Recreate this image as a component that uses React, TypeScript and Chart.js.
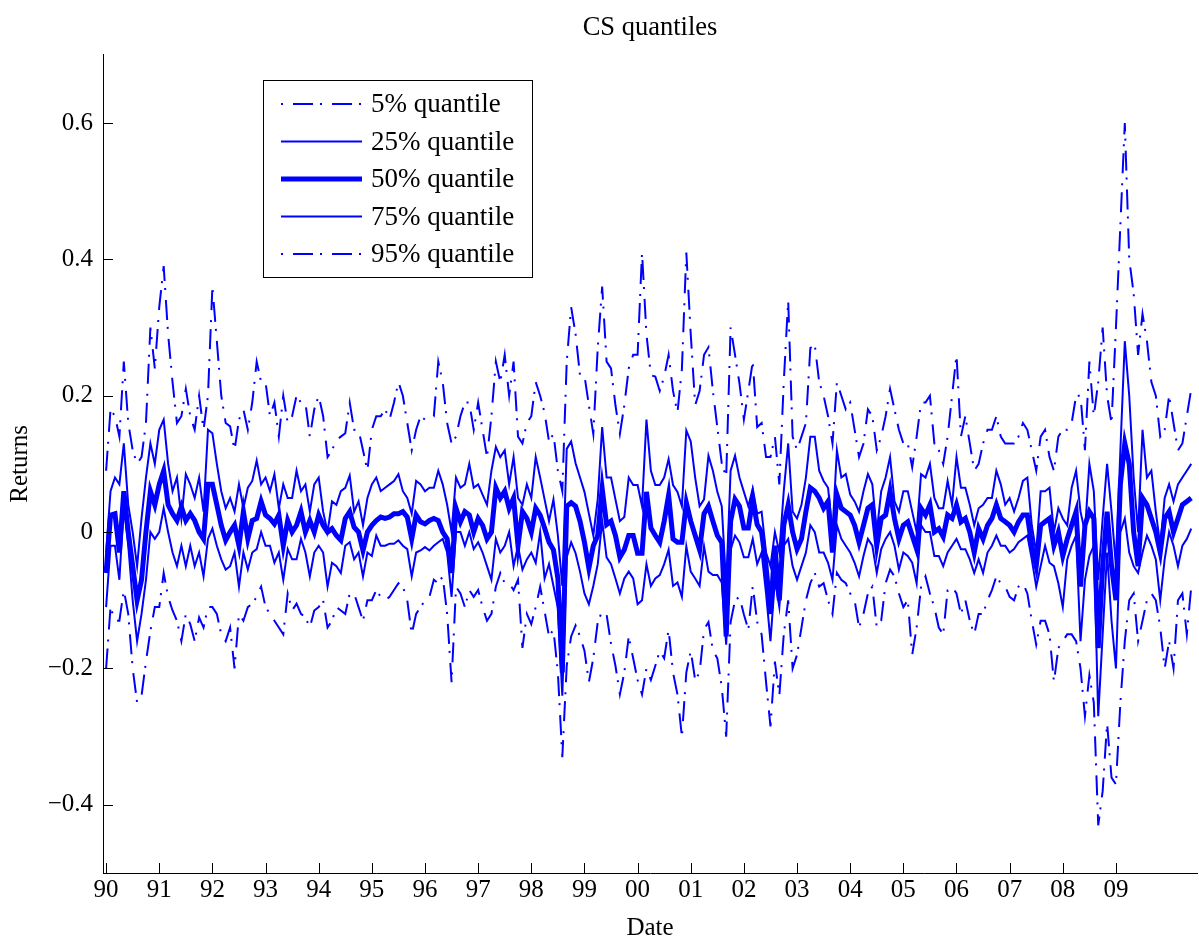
import React, { useEffect, useRef } from "react";
import { Chart, registerables } from "chart.js";

Chart.register(...registerables);

// Month index 0 = Jan 1990
const q95 = [
  0.09, 0.18, 0.17, 0.14, 0.25, 0.16, 0.12, 0.10, 0.11, 0.16, 0.30, 0.24, 0.33, 0.39, 0.29, 0.22, 0.16, 0.17, 0.21, 0.17, 0.15, 0.20, 0.15, 0.20,
  0.36, 0.28, 0.20, 0.16, 0.155, 0.12, 0.165, 0.18, 0.15, 0.19, 0.25, 0.22, 0.22, 0.17, 0.19, 0.14, 0.20, 0.16, 0.17, 0.20, 0.19, 0.19, 0.14, 0.18, 0.20,
  0.17, 0.11, 0.12, 0.135, 0.14, 0.145, 0.19, 0.15, 0.15, 0.12, 0.09, 0.15, 0.17, 0.17, 0.18, 0.165, 0.19, 0.22, 0.20, 0.16, 0.12, 0.15, 0.17, 0.165, 0.17,
  0.17, 0.25, 0.22, 0.16, 0.13, 0.14, 0.17, 0.19, 0.19, 0.15, 0.19, 0.15, 0.11, 0.17, 0.25, 0.22, 0.26, 0.20, 0.25, 0.14, 0.13, 0.16, 0.17, 0.22, 0.20,
  0.175, 0.133, 0.144, 0.09, 0.06, 0.25, 0.33, 0.29, 0.23, 0.23, 0.186, 0.144, 0.27, 0.36, 0.25, 0.24, 0.186, 0.144, 0.186, 0.24, 0.26, 0.26, 0.41, 0.29, 0.23,
  0.228, 0.207, 0.228, 0.26, 0.207, 0.175, 0.239, 0.41, 0.29, 0.186, 0.207, 0.26, 0.271, 0.207, 0.154, 0.101, 0.08, 0.30, 0.26, 0.218, 0.165, 0.207, 0.25, 0.154,
  0.16, 0.11, 0.11, 0.14, 0.07, 0.22, 0.34, 0.14, 0.12, 0.14, 0.16, 0.27, 0.275, 0.22, 0.20, 0.17, 0.13, 0.22, 0.20, 0.18, 0.19, 0.15, 0.11, 0.13, 0.18,
  0.17, 0.12, 0.14, 0.17, 0.21, 0.18, 0.15, 0.13, 0.13, 0.095, 0.14, 0.19, 0.19, 0.20, 0.13, 0.12, 0.10, 0.14, 0.20, 0.26, 0.14, 0.17, 0.13, 0.09, 0.10,
  0.13, 0.15, 0.15, 0.17, 0.14, 0.13, 0.13, 0.13, 0.14, 0.16, 0.15, 0.12, 0.09, 0.14, 0.15, 0.11, 0.09, 0.14, 0.15, 0.15, 0.16, 0.20,
  0.20, 0.12, 0.25, 0.17, 0.22, 0.30, 0.20, 0.16, 0.30, 0.45, 0.60, 0.40, 0.35, 0.26, 0.32, 0.28, 0.22, 0.20, 0.14, 0.15, 0.20, 0.16, 0.12, 0.13, 0.17, 0.21,
];

const q75 = [
  -0.03, 0.06, 0.08, 0.07, 0.13, 0.04, 0.0, -0.05, 0.02, 0.08, 0.13, 0.10, 0.15, 0.165, 0.10, 0.06, 0.08, 0.02, 0.085, 0.07, 0.05, 0.08, 0.03, 0.15,
  0.145, 0.10, 0.06, 0.035, 0.05, 0.03, 0.07, 0.035, 0.065, 0.075, 0.105, 0.07, 0.08, 0.06, 0.085, 0.035, 0.07, 0.05, 0.05, 0.09, 0.06, 0.07, 0.03, 0.07, 0.08,
  0.03, 0.0, 0.045, 0.04, 0.06, 0.065, 0.083, 0.03, 0.045, 0.01, 0.05, 0.07, 0.08, 0.06, 0.065, 0.07, 0.075, 0.085, 0.06, 0.05, 0.027, 0.075, 0.07, 0.06, 0.065,
  0.065, 0.09, 0.07, 0.04, 0.0, 0.08, 0.065, 0.07, 0.10, 0.065, 0.07, 0.055, 0.04, 0.09, 0.125, 0.11, 0.12, 0.07, 0.11, 0.05, 0.04, 0.07, 0.05, 0.11, 0.08,
  0.048, 0.016, 0.048, -0.005, -0.079, 0.122, 0.133, 0.101, 0.08, 0.059, 0.027, -0.005, 0.048, 0.154, 0.08, 0.08, 0.048, 0.016, 0.022, 0.08, 0.069, 0.069, 0.038, 0.165, 0.09,
  0.069, 0.069, 0.08, 0.107, 0.069, 0.059, 0.038, 0.149, 0.133, 0.08, 0.038, 0.048, 0.112, 0.09, 0.059, 0.038, -0.079, 0.09, 0.112, 0.08, 0.059, 0.038, 0.064, 0.027,
  0.03, -0.03, -0.05, 0.0, -0.03, 0.06, 0.13, 0.03, 0.02, 0.04, 0.08, 0.14, 0.14, 0.09, 0.075, 0.065, 0.0, 0.12, 0.08, 0.085, 0.055, 0.045, 0.03, 0.06, 0.085,
  0.07, 0.0, 0.06, 0.08, 0.11, 0.045, 0.03, 0.06, 0.06, 0.03, 0.0, 0.085, 0.08, 0.10, 0.05, 0.035, 0.035, 0.075, 0.04, 0.11, 0.065, 0.065, 0.04, 0.01, 0.035,
  0.04, 0.05, 0.05, 0.09, 0.07, 0.04, 0.05, 0.03, 0.05, 0.075, 0.08, 0.01, -0.03, 0.06, 0.06, 0.065, 0.0, 0.035, 0.02, 0.01, 0.065, 0.09,
  0.03, 0.0, 0.10, 0.06, -0.07, 0.02, 0.10, 0.03, -0.05, 0.12, 0.28, 0.20, 0.08, 0.0, 0.15, 0.08, 0.09, 0.03, -0.02, 0.05, 0.07, 0.045, 0.07, 0.08, 0.09, 0.10,
];

const q50 = [
  -0.06, 0.025, 0.027, -0.03, 0.06, 0.0, -0.05, -0.10, -0.07, 0.0, 0.06, 0.04, 0.07, 0.09, 0.04, 0.027, 0.017, 0.037, 0.017, 0.027, 0.017, 0.0, -0.01, 0.07,
  0.07, 0.04, 0.01, -0.012, 0.0, 0.01, -0.02, 0.03, -0.01, 0.017, 0.02, 0.045, 0.025, 0.02, 0.012, 0.025, -0.02, 0.017, 0.0, 0.01, 0.03, 0.0, 0.017, 0.0, 0.025,
  0.01, 0.0, 0.005, -0.005, -0.012, 0.02, 0.03, 0.007, 0.0, -0.027, 0.0, 0.01, 0.017, 0.022, 0.02, 0.022, 0.027, 0.027, 0.03, 0.022, -0.01, 0.025, 0.015, 0.012, 0.017,
  0.02, 0.017, 0.0, -0.01, -0.06, 0.035, 0.015, 0.03, 0.025, 0.0, 0.02, 0.01, -0.01, 0.0, 0.065, 0.05, 0.06, 0.035, 0.05, -0.02, 0.03, 0.02, 0.0, 0.035, 0.025,
  0.006, -0.015, -0.026, -0.068, -0.206, 0.038, 0.043, 0.038, 0.016, -0.015, -0.053, -0.02, -0.005, 0.064, 0.011, 0.016, -0.005, -0.037, -0.026, -0.005, -0.005, -0.031, -0.031, 0.059, 0.006,
  -0.005, -0.015, 0.016, 0.054, -0.01, -0.015, -0.015, 0.043, 0.016, -0.005, -0.026, 0.027, 0.038, 0.016, -0.005, -0.015, -0.153, 0.016, 0.048, 0.038, 0.006, 0.006, 0.048, 0.011,
  0.0, -0.05, -0.12, -0.02, -0.10, 0.01, 0.04, 0.0, -0.025, -0.01, 0.03, 0.065, 0.06, 0.05, 0.035, 0.045, -0.03, 0.055, 0.035, 0.03, 0.025, 0.01, -0.015, 0.01, 0.035,
  0.04, -0.02, 0.02, 0.025, 0.06, 0.02, -0.01, 0.01, 0.015, -0.005, -0.025, 0.035, 0.025, 0.04, 0.0, 0.005, -0.007, 0.025, 0.02, 0.04, 0.015, 0.02, 0.0, -0.03, 0.005,
  -0.01, 0.01, 0.02, 0.04, 0.02, 0.015, 0.01, 0.0, 0.015, 0.025, 0.025, -0.02, -0.05, 0.01, 0.015, 0.02, -0.02, 0.0, -0.035, -0.01, 0.01, 0.03,
  -0.08, 0.01, 0.03, 0.02, -0.17, -0.05, 0.03, -0.05, -0.10, 0.07, 0.13, 0.10, 0.0, -0.05, 0.05, 0.04, 0.02, 0.0, -0.03, 0.02, 0.03, 0.0, 0.02, 0.04, 0.045, 0.05,
];

const q25 = [
  -0.11, -0.02, -0.02, -0.07, 0.04, -0.02, -0.10, -0.16, -0.12, -0.07, 0.0, -0.01, 0.0, 0.035, 0.0, -0.03, -0.05, -0.02, -0.05, -0.02, -0.05, -0.03, -0.065, -0.01,
  0.005, -0.02, -0.04, -0.055, -0.05, -0.03, -0.08, -0.03, -0.055, -0.03, -0.025, 0.0, -0.02, -0.02, -0.045, -0.03, -0.07, -0.025, -0.04, -0.04, -0.01, -0.03, -0.065, -0.03, -0.02,
  -0.03, -0.08, -0.045, -0.05, -0.06, -0.02, -0.015, -0.04, -0.03, -0.065, -0.03, -0.035, -0.005, -0.02, -0.02, -0.017, -0.017, -0.012, -0.02, -0.025, -0.065, -0.03, -0.027, -0.022, -0.027,
  -0.02, -0.015, -0.01, -0.03, -0.095, 0.0, 0.0, -0.02, 0.0, -0.025, -0.015, -0.03, -0.05, -0.07, -0.01, -0.03, -0.02, 0.0, -0.05, -0.02, -0.055, -0.04, -0.03, -0.045, 0.0,
  -0.068, -0.047, -0.079, -0.111, -0.24, -0.037, -0.015, -0.031, -0.058, -0.09, -0.106, -0.079, -0.047, 0.016, -0.037, -0.047, -0.068, -0.09, -0.068, -0.058, -0.068, -0.106, -0.10, -0.047, -0.079,
  -0.068, -0.063, -0.047, -0.026, -0.079, -0.074, -0.095, -0.021, -0.058, -0.068, -0.079, -0.021, -0.058, -0.063, -0.063, -0.074, -0.165, -0.026, -0.005, -0.015, -0.037, -0.037, -0.01, -0.047,
  -0.03, -0.09, -0.16, -0.07, -0.11, -0.02, -0.01, -0.05, -0.07, -0.05, -0.03, 0.01, 0.0, -0.03, -0.03, -0.045, -0.07, 0.01, -0.01, -0.02, -0.03, -0.045, -0.065, -0.035, -0.01,
  -0.02, -0.06, -0.025, -0.01, 0.0, -0.02, -0.055, -0.03, -0.035, -0.045, -0.075, 0.01, 0.0, 0.0, -0.035, -0.035, -0.05, -0.03, -0.02, -0.01, -0.025, -0.025, -0.04, -0.06, -0.04,
  -0.06, -0.03, -0.02, -0.005, -0.02, -0.02, -0.03, -0.025, -0.015, -0.01, -0.005, -0.04, -0.08, -0.05, -0.02, -0.045, -0.05, -0.075, -0.11, -0.04, -0.02, -0.005,
  -0.16, -0.07, -0.035, -0.02, -0.27, -0.15, -0.03, -0.13, -0.20, 0.0, 0.02, -0.03, -0.05, -0.06, -0.03, -0.005, -0.02, -0.04, -0.10, -0.04, 0.0, -0.02, -0.05, -0.02, -0.01, 0.005,
];

const q05 = [
  -0.20, -0.11, -0.13, -0.13, -0.085, -0.12, -0.20, -0.25, -0.24, -0.19, -0.145, -0.11, -0.11, -0.06, -0.095, -0.115, -0.13, -0.16, -0.12, -0.135, -0.16, -0.125, -0.14, -0.11,
  -0.11, -0.12, -0.15, -0.16, -0.14, -0.20, -0.12, -0.13, -0.11, -0.105, -0.095, -0.08, -0.11, -0.12, -0.13, -0.14, -0.15, -0.09, -0.115, -0.105, -0.12, -0.125, -0.14, -0.115, -0.11,
  -0.10, -0.14, -0.13, -0.11, -0.115, -0.12, -0.09, -0.09, -0.11, -0.13, -0.10, -0.10, -0.085, -0.095, -0.10, -0.095, -0.085, -0.075, -0.08, -0.10, -0.15, -0.12, -0.11, -0.10, -0.095,
  -0.07, -0.075, -0.065, -0.12, -0.22, -0.08, -0.09, -0.11, -0.085, -0.095, -0.085, -0.11, -0.13, -0.12, -0.08, -0.06, -0.075, -0.075, -0.085, -0.07, -0.17, -0.12, -0.135, -0.11, -0.08,
  -0.116, -0.153, -0.143, -0.206, -0.33, -0.196, -0.153, -0.137, -0.153, -0.174, -0.22, -0.185, -0.132, -0.116, -0.121, -0.164, -0.196, -0.238, -0.206, -0.153, -0.185, -0.217, -0.238, -0.20, -0.217,
  -0.196, -0.174, -0.185, -0.143, -0.206, -0.238, -0.30, -0.206, -0.174, -0.217, -0.206, -0.143, -0.132, -0.174, -0.185, -0.227, -0.30, -0.132, -0.10, -0.095, -0.121, -0.143, -0.079, -0.132,
  -0.15, -0.22, -0.285, -0.19, -0.24, -0.15, -0.10, -0.20, -0.18, -0.14, -0.10, -0.075, -0.06, -0.08, -0.075, -0.10, -0.12, -0.06, -0.07, -0.075, -0.09, -0.10, -0.14, -0.12, -0.09,
  -0.08, -0.14, -0.13, -0.075, -0.055, -0.065, -0.09, -0.11, -0.10, -0.18, -0.14, -0.08, -0.065, -0.09, -0.11, -0.14, -0.15, -0.085, -0.08, -0.09, -0.12, -0.10, -0.13, -0.15, -0.12,
  -0.12, -0.10, -0.085, -0.065, -0.075, -0.08, -0.095, -0.10, -0.08, -0.075, -0.09, -0.13, -0.165, -0.13, -0.13, -0.15, -0.22, -0.17, -0.16, -0.15, -0.15, -0.16,
  -0.20, -0.27, -0.21, -0.25, -0.43, -0.38, -0.28, -0.36, -0.37, -0.25, -0.16, -0.10, -0.09, -0.16, -0.13, -0.10, -0.09, -0.10, -0.14, -0.20, -0.16, -0.20, -0.10, -0.09, -0.15, -0.08,
];

const yearTickMonths = [0, 12, 24, 36, 48, 60, 72, 84, 96, 108, 120, 132, 144, 156, 168, 180, 192, 204, 216, 228];
const yearTickLabels = ["90", "91", "92", "93", "94", "95", "96", "97", "98", "99", "00", "01", "02", "03", "04", "05", "06", "07", "08", "09"];
const yTickValues = [-0.4, -0.2, 0, 0.2, 0.4, 0.6];
const yTickLabels = ["\u22120.4", "\u22120.2", "0", "0.2", "0.4", "0.6"];
const seriesLabels = ["5% quantile", "25% quantile", "50% quantile", "75% quantile", "95% quantile"];

const BLUE = "#0000ff";
const FONT = "'Liberation Serif', 'Times New Roman', serif";
const DASHDOT = [20, 7, 2, 10];

const matlabPlugin = {
  id: "matlabDecor",
  afterDraw(chart: any) {
    const { ctx, chartArea, scales } = chart;
    const { left, bottom } = chartArea;
    const xs = scales.x;
    const ys = scales.y;
    ctx.save();
    // inward tick marks
    ctx.strokeStyle = "#000";
    ctx.lineWidth = 1;
    ctx.setLineDash([]);
    ctx.beginPath();
    xs.ticks.forEach((t: any) => {
      const px = Math.round(xs.getPixelForValue(t.value)) + 0.5;
      ctx.moveTo(px, bottom);
      ctx.lineTo(px, bottom - 10);
    });
    ys.ticks.forEach((t: any) => {
      const py = Math.round(ys.getPixelForValue(t.value)) + 0.5;
      ctx.moveTo(left, py);
      ctx.lineTo(left + 10, py);
    });
    ctx.stroke();

    // legend box
    const bx = 263.5, by = 80.5, bw = 269, bh = 197;
    ctx.fillStyle = "#fff";
    ctx.fillRect(bx, by, bw, bh);
    ctx.strokeStyle = "#000";
    ctx.lineWidth = 1;
    ctx.strokeRect(bx, by, bw, bh);
    const rows = [104, 141.5, 179, 216.5, 254];
    chart.data.datasets.forEach((ds: any, k: number) => {
      const yy = rows[k];
      ctx.strokeStyle = ds.borderColor;
      ctx.lineWidth = ds.borderWidth;
      ctx.lineCap = "butt";
      if (ds.borderDash && ds.borderDash.length) {
        ctx.setLineDash(ds.borderDash);
        ctx.lineDashOffset = 27;
      } else {
        ctx.setLineDash([]);
        ctx.lineDashOffset = 0;
      }
      ctx.beginPath();
      ctx.moveTo(281, yy);
      ctx.lineTo(362, yy);
      ctx.stroke();
      ctx.setLineDash([]);
      ctx.fillStyle = "#000";
      ctx.font = `27px ${FONT}`;
      ctx.textBaseline = "middle";
      ctx.textAlign = "left";
      ctx.fillText(ds.label, 371, yy + 1);
    });
    ctx.restore();
  },
};

export default function App() {
  const ref = useRef<HTMLCanvasElement>(null);
  useEffect(() => {
    const canvas = ref.current;
    if (!canvas) return;
    const mk = (arr: number[]) => arr.map((v, i) => ({ x: i, y: v }));
    const chart = new Chart(canvas, {
      type: "line",
      data: {
        datasets: [
          { label: seriesLabels[0], data: mk(q05), borderColor: BLUE, borderWidth: 2, borderDash: DASHDOT, pointRadius: 0, fill: false, tension: 0 },
          { label: seriesLabels[1], data: mk(q25), borderColor: BLUE, borderWidth: 2, pointRadius: 0, fill: false, tension: 0 },
          { label: seriesLabels[2], data: mk(q50), borderColor: BLUE, borderWidth: 5, pointRadius: 0, fill: false, tension: 0 },
          { label: seriesLabels[3], data: mk(q75), borderColor: BLUE, borderWidth: 2, pointRadius: 0, fill: false, tension: 0 },
          { label: seriesLabels[4], data: mk(q95), borderColor: BLUE, borderWidth: 2, borderDash: DASHDOT, pointRadius: 0, fill: false, tension: 0 },
        ],
      },
      options: {
        responsive: false,
        animation: false,
        events: [],
        layout: { padding: { left: 0, right: 2, top: 0, bottom: 0 } },
        font: { family: FONT },
        plugins: {
          legend: { display: false },
          tooltip: { enabled: false },
          title: {
            display: true,
            text: "CS quantiles",
            color: "#000",
            fullSize: false,
            font: { family: FONT, size: 26.5, weight: "normal", lineHeight: 1.2 },
            padding: { top: 12, bottom: 11 },
          },
        },
        scales: {
          x: {
            type: "linear",
            min: -0.7,
            max: 246.3,
            grid: { display: false, drawTicks: false },
            border: { display: true, color: "#000", width: 1 },
            afterBuildTicks: (s: any) => {
              s.ticks = yearTickMonths.map((v) => ({ value: v }));
            },
            afterFit: (s: any) => {
              s.height = 65;
            },
            ticks: {
              color: "#000",
              autoSkip: false,
              maxRotation: 0,
              padding: 2,
              font: { family: FONT, size: 25 },
              callback: (v: any) => {
                const k = yearTickMonths.indexOf(Number(v));
                return k >= 0 ? yearTickLabels[k] : "";
              },
            },
            title: {
              display: true,
              text: "Date",
              color: "#000",
              font: { family: FONT, size: 25, lineHeight: 0.75 },
              padding: { top: 0, bottom: 0 },
            },
          },
          y: {
            type: "linear",
            min: -0.5,
            max: 0.7,
            grid: { display: false, drawTicks: false },
            border: { display: true, color: "#000", width: 1 },
            afterBuildTicks: (s: any) => {
              s.ticks = yTickValues.map((v) => ({ value: v }));
            },
            afterFit: (s: any) => {
              s.width = 103;
            },
            ticks: {
              color: "#000",
              padding: 10,
              font: { family: FONT, size: 25 },
              callback: (v: any) => {
                const k = yTickValues.findIndex((t) => Math.abs(t - Number(v)) < 1e-9);
                return k >= 0 ? yTickLabels[k] : "";
              },
            },
            title: {
              display: true,
              text: "Returns",
              color: "#000",
              font: { family: FONT, size: 25 },
              padding: { top: 5, bottom: 0 },
            },
          },
        },
      } as any,
      plugins: [matlabPlugin],
    });
    return () => chart.destroy();
  }, []);
  return (
    <div style={{ position: "absolute", left: 0, top: 0, width: 1199, height: 938, background: "#fff" }}>
      <canvas ref={ref} width={1199} height={938} style={{ display: "block", width: 1199, height: 938 }} />
    </div>
  );
}
